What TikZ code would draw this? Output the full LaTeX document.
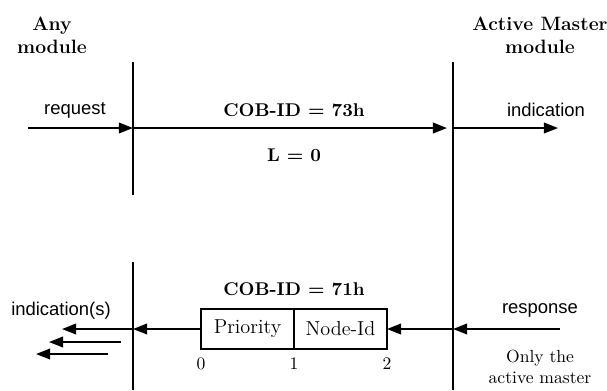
\documentclass[tikz,border=0pt]{standalone}
\usepackage{fontspec}
\usepackage{tikz}
\usetikzlibrary{arrows.meta}
\newfontfamily\helv{Liberation Sans}

\begin{document}
\begin{tikzpicture}[x=0.02cm,y=-0.02cm,
    lane/.style={line width=1.1pt},
    msg/.style={line width=1.1pt,-{Triangle[length=8pt,width=6pt]}},
    prim/.style={font=\helv\fontsize{10.5}{12}\selectfont},
    ttl/.style={font=\bfseries\fontsize{11}{13}\selectfont,align=center},
    cob/.style={font=\bfseries\fontsize{10.5}{12}\selectfont},
    field/.style={draw,line width=0.6pt,outer sep=0pt,minimum width=1.86cm,minimum height=0.8cm,inner sep=0pt,font=\fontsize{11.5}{13}\selectfont},
    idx/.style={font=\fontsize{10}{12}\selectfont},
    note/.style={font=\fontsize{10}{12}\selectfont,align=center}]

      \useasboundingbox (0,0) rectangle (607,390);

      % module headings
      \node[ttl] (any) at (52,35) {Any\\module};
      \node[ttl] (am) at (540,35) {Active Master\\module};

      % time lines
      \coordinate (l1) at (133,62);
      \coordinate (l2) at (133,195);
      \coordinate (l3) at (133,262);
      \coordinate (l4) at (133,390);
      \coordinate (r1) at (453,62);
      \coordinate (r2) at (453,390);
      \draw[lane] (l1) -- (l2);
      \draw[lane] (l3) -- (l4);
      \draw[lane] (r1) -- (r2);

      % request / indication
      \coordinate (req) at (28,128);
      \coordinate (a-top) at (133,128);
      \coordinate (m-top) at (453,128);
      \coordinate (ind) at (558,128);
      \draw[msg] (req) -- (a-top);
      \draw[msg,shorten >=3.4pt] (a-top) -- (m-top);
      \draw[msg] (m-top) -- (ind);
      \node[prim] (t-req) at (75,110) {request};
      \node[prim] (t-ind) at (546,110) {indication};
      \node[cob] (cob1) at (294,110) {COB-ID = 73h};
      \node[cob] (len) at (294,155) {L = 0};

      % response with data field
      \node[field] (prio) at (247.5,329) {Priority};
      \node[field,anchor=west] (nid) at (prio.east) {Node-Id};
      \node[idx] at (201,364) {0};
      \node[idx] at (294,364) {1};
      \node[idx] at (387,364) {2};
      \node[cob] (cob2) at (294,289) {COB-ID = 71h};

      \coordinate (resp) at (560,329);
      \coordinate (m-bot) at (453,329);
      \coordinate (a-bot) at (133,329);
      \draw[msg] (resp) -- (m-bot);
      \draw[msg] (m-bot) -- (nid.east);
      \draw[msg] (prio.west) -- (a-bot);

      % several indications
      \coordinate (i1) at (62,329);
      \coordinate (i2s) at (121,342);
      \coordinate (i2) at (49,342);
      \coordinate (i3s) at (108,354);
      \coordinate (i3) at (36,354);
      \draw[msg] (a-bot) -- (i1);
      \draw[msg] (i2s) -- (i2);
      \draw[msg] (i3s) -- (i3);

      \node[prim] (t-inds) at (61,311) {indication(s)};
      \node[prim] (t-resp) at (540,310) {response};
      \node[note] (only) at (540,367) {Only the\\active master};

\end{tikzpicture}
\end{document}
